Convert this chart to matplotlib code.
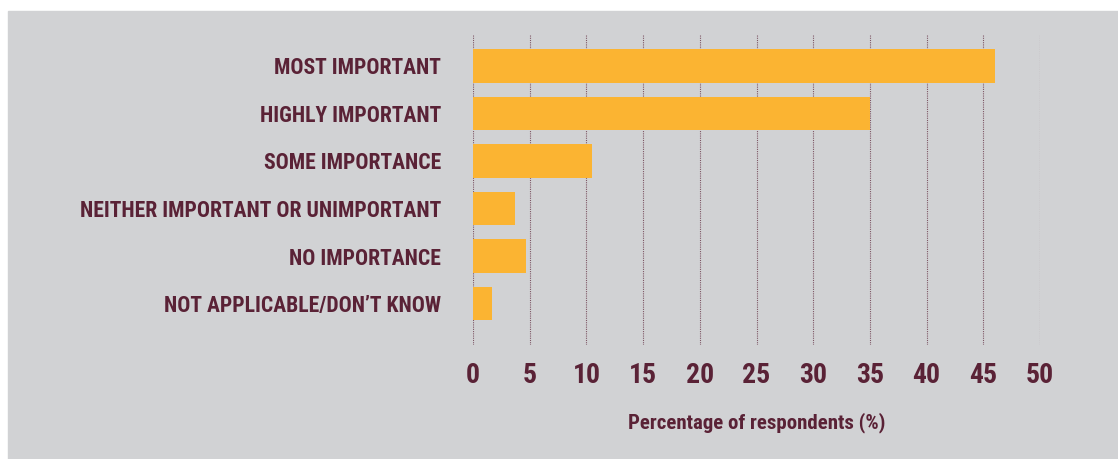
import matplotlib.pyplot as plt
from matplotlib.patches import Rectangle

categories = ["MOST IMPORTANT", "HIGHLY IMPORTANT", "SOME IMPORTANCE",
              "NEITHER IMPORTANT OR UNIMPORTANT", "NO IMPORTANCE",
              "NOT APPLICABLE/DON\u2019T KNOW"]
values = [46, 35, 10.5, 3.7, 4.65, 1.65]
xticks = [0, 5, 10, 15, 20, 25, 30, 35, 40, 45, 50]

maroon = "#5a2236"
orange = "#fbb432"
grey = "#d1d2d4"

plt.rcParams['font.family'] = ['Roboto Condensed', 'Archivo Narrow', 'Liberation Sans', 'DejaVu Sans']

fig = plt.figure(figsize=(11.18, 4.59), dpi=100)
# grey panel behind everything, white strip top and left
fig.patches.append(Rectangle((8 / 1118, 0), 1, 1 - 11 / 459,
                             transform=fig.transFigure, color=grey, zorder=-10))

ax = fig.add_axes([473 / 1118, 1 - 345 / 459, (1040 - 473) / 1118, 310 / 459])
ax.patch.set_visible(False)

ypos = list(range(len(categories)))
ax.barh(ypos, values, height=0.7, color=orange, zorder=3)

ax.set_xlim(0, 50)
ax.set_ylim(5.87, -0.65)
ax.set_xticks(xticks)
ax.set_xticklabels([str(t) for t in xticks], fontsize=20, fontweight="bold", color=maroon)
ax.set_yticks(ypos)
ax.set_yticklabels(categories, fontsize=15.6, fontweight="bold", color=maroon)
ax.tick_params(axis="both", length=0)
ax.tick_params(axis="x", pad=12)
ax.tick_params(axis="y", pad=23)

for t in xticks:
    ax.axvline(t, color=maroon, linestyle=(0, (1, 1)), linewidth=0.8, alpha=0.7, zorder=1)

for s in ax.spines.values():
    s.set_visible(False)

ax.set_xlabel("Percentage of respondents (%)", fontsize=15, fontweight="bold",
              color=maroon, labelpad=17)

fig.savefig("out.png", dpi=100)
